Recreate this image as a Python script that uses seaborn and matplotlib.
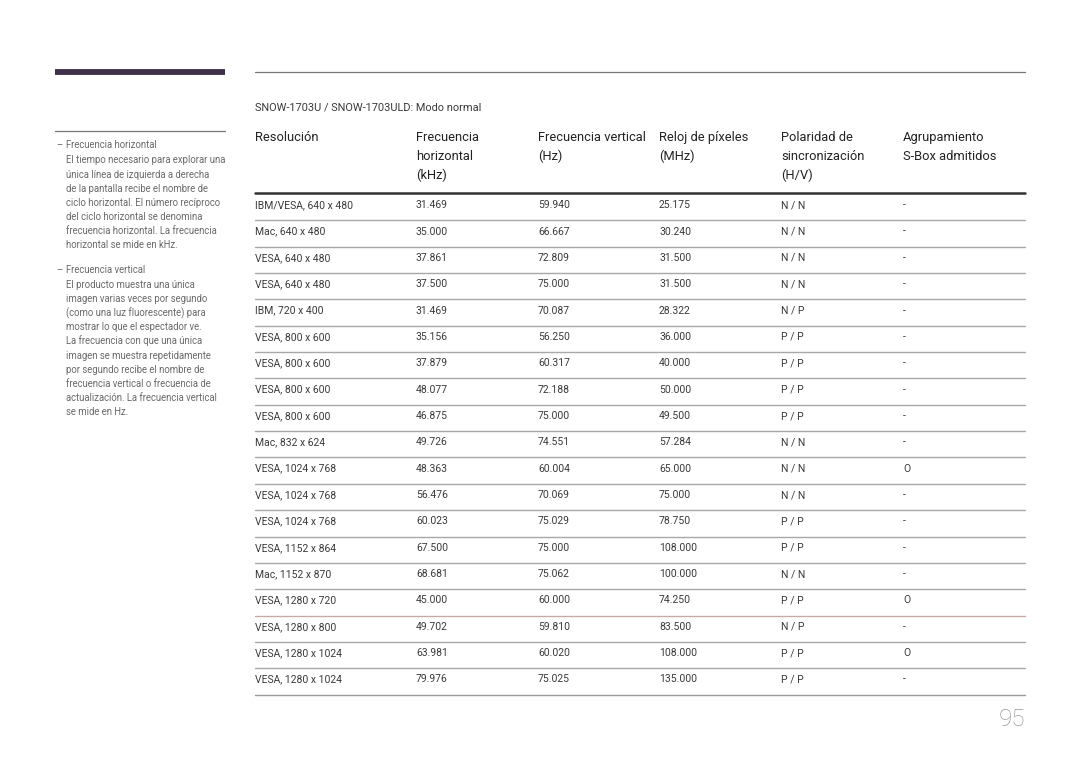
import matplotlib
matplotlib.use("Agg")
import matplotlib.pyplot as plt
import seaborn as sns
import numpy as np

sns.set_theme(style="white")
plt.rcParams['font.family'] = ['Roboto', 'DejaVu Sans']

subtitle = "SNOW-1703U / SNOW-1703ULD: Modo normal"
headers = [["Resolución"], ["Frecuencia", "horizontal", "(kHz)"], ["Frecuencia vertical", "(Hz)"],
           ["Reloj de píxeles", "(MHz)"], ["Polaridad de", "sincronización", "(H/V)"],
           ["Agrupamiento", "S-Box admitidos"]]
resolution = ["IBM/VESA, 640 x 480", "Mac, 640 x 480", "VESA, 640 x 480", "VESA, 640 x 480",
              "IBM, 720 x 400", "VESA, 800 x 600", "VESA, 800 x 600", "VESA, 800 x 600",
              "VESA, 800 x 600", "Mac, 832 x 624", "VESA, 1024 x 768", "VESA, 1024 x 768",
              "VESA, 1024 x 768", "VESA, 1152 x 864", "Mac, 1152 x 870", "VESA, 1280 x 720",
              "VESA, 1280 x 800", "VESA, 1280 x 1024", "VESA, 1280 x 1024"]
h_freq = ["31.469", "35.000", "37.861", "37.500", "31.469", "35.156", "37.879", "48.077",
          "46.875", "49.726", "48.363", "56.476", "60.023", "67.500", "68.681", "45.000",
          "49.702", "63.981", "79.976"]
v_freq = ["59.940", "66.667", "72.809", "75.000", "70.087", "56.250", "60.317", "72.188",
          "75.000", "74.551", "60.004", "70.069", "75.029", "75.000", "75.062", "60.000",
          "59.810", "60.020", "75.025"]
pixel_clock = ["25.175", "30.240", "31.500", "31.500", "28.322", "36.000", "40.000", "50.000",
               "49.500", "57.284", "65.000", "75.000", "78.750", "108.000", "100.000", "74.250",
               "83.500", "108.000", "135.000"]
polarity = ["N / N", "N / N", "N / N", "N / N", "N / P", "P / P", "P / P", "P / P", "P / P",
            "N / N", "N / N", "N / N", "P / P", "P / P", "N / N", "P / P", "N / P", "P / P", "P / P"]
sbox = ["-", "-", "-", "-", "-", "-", "-", "-", "-", "-", "O", "-", "-", "-", "-", "O", "-", "O", "-"]

side_title1 = "Frecuencia horizontal"
side_body1 = ["El tiempo necesario para explorar una", "única línea de izquierda a derecha",
              "de la pantalla recibe el nombre de", "ciclo horizontal. El número recíproco",
              "del ciclo horizontal se denomina", "frecuencia horizontal. La frecuencia",
              "horizontal se mide en kHz."]
side_title2 = "Frecuencia vertical"
side_body2 = ["El producto muestra una única", "imagen varias veces por segundo",
              "(como una luz fluorescente) para", "mostrar lo que el espectador ve.",
              "La frecuencia con que una única", "imagen se muestra repetidamente",
              "por segundo recibe el nombre de", "frecuencia vertical o frecuencia de",
              "actualización. La frecuencia vertical", "se mide en Hz."]
page_number = "95"

W, H = 1080, 763
fig = plt.figure(figsize=(W / 100, H / 100), dpi=100)
ax = fig.add_axes([0, 0, 1, 1])
ax.set_xlim(0, W)
ax.set_ylim(H, 0)
ax.axis("off")

txt = "#3a3a3a"
side = "#6a6a6a"
sfs = 6.85
vb = "baseline"

# Decorative lines
ax.plot([55, 225], [72, 72], color="#3f3049", lw=4.2, solid_capstyle="butt")
ax.plot([255, 1025], [72, 72], color="#777777", lw=0.9)
ax.plot([55, 225], [131, 131], color="#777777", lw=0.9)

# Sidebar
pitch = 14.15
sb = 3.4
y = 145 + sb
ax.text(56.5, y, "–", fontsize=sfs, color=side, va=vb)
ax.text(66, y, side_title1, fontsize=sfs, color=side, va=vb)
for i, line in enumerate(side_body1):
    ax.text(66, 160 + sb + i * pitch, line, fontsize=sfs, color=side, va=vb)
y = 270 + sb
ax.text(56.5, y, "–", fontsize=sfs, color=side, va=vb)
ax.text(66, y, side_title2, fontsize=sfs, color=side, va=vb)
for i, line in enumerate(side_body2):
    ax.text(66, 284.5 + sb + i * pitch, line, fontsize=sfs, color=side, va=vb)

# Subtitle
ax.text(255, 106.5 + 3.9, subtitle, fontsize=7.9, color=txt, va=vb)

# Header
col_x = [255, 416, 538, 659, 781, 903]
head_y = [136.5, 155, 174]
for cx, h in zip(col_x, headers):
    for j, line in enumerate(h):
        ax.text(cx, head_y[j] + 4.6, line, fontsize=9.3, color="#222222", va=vb)
ax.plot([255, 1025], [193, 193], color="#333333", lw=1.8)

# Rows
row0 = 204.5
rp = 26.35
columns = [resolution, h_freq, v_freq, pixel_clock, polarity, sbox]
n = len(resolution)
for r in range(n):
    yy = row0 + r * rp
    for cx, col in zip(col_x, columns):
        ax.text(cx, yy + 3.7, col[r], fontsize=7.5, color=txt, va=vb)
    ly = yy + rp * 0.6
    lc = "#c9a9a4" if r == 15 else "#a8a8a8"
    if r == n - 1:
        ly = yy + 16.5
        lc = "#999999"
    ax.plot([255, 1025], [ly, ly], color=lc, lw=1.0)

ax.text(1025, 720, page_number, fontsize=17.5, color="#9a9a9a", va="center", ha="right",
        fontweight="light")

fig.savefig("out.png", dpi=100)
